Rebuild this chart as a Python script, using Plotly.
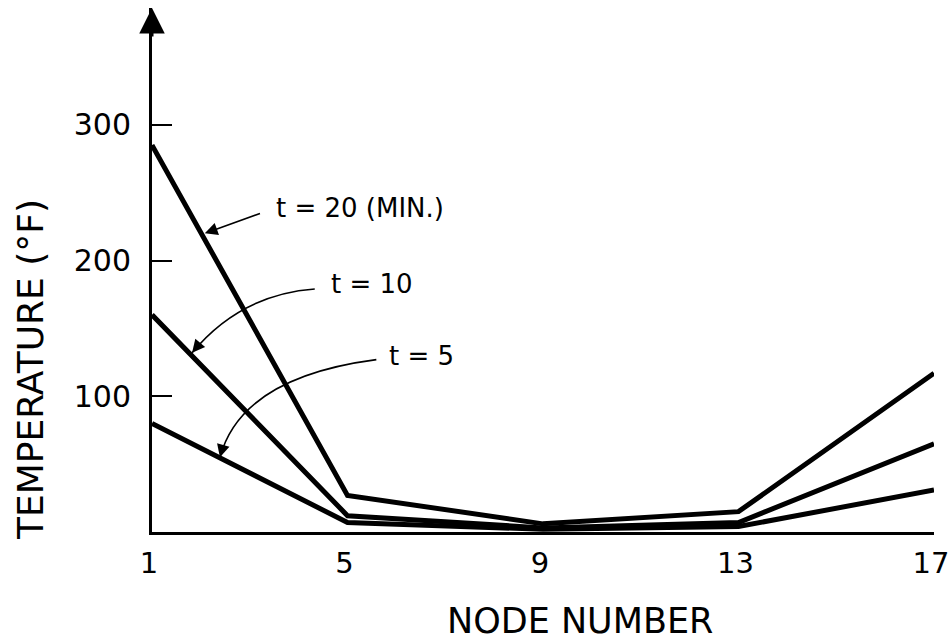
import plotly.graph_objects as go

# ---- data ----
nodes = [1, 5, 9, 13, 17]
t20 = [285, 27, 6, 15, 117]
t10 = [160, 12, 3, 7, 65]
t5 = [80, 7, 2, 4, 31]
x_ticks = [1, 5, 9, 13, 17]
y_ticks = [100, 200, 300]
labels = ["t = 20 (MIN.)", "t = 10", "t = 5"]

FONT = "DejaVu Sans"
W, H = 950, 642
ML, MR, MT, MB = 152, 16, 8, 110
YMAX = 386

fig = go.Figure()
for ys in (t20, t10, t5):
    fig.add_trace(go.Scatter(x=nodes, y=ys, mode="lines",
                             line=dict(color="black", width=5),
                             cliponaxis=False, showlegend=False,
                             hoverinfo="skip"))

ann = []
lab_font = dict(size=26, family=FONT, color="black")
ann.append(dict(x=3.5, y=239, text=labels[0], showarrow=False, xanchor="left",
                font=lab_font))
ann.append(dict(x=4.62, y=183, text=labels[1], showarrow=False, xanchor="left",
                font=lab_font))
ann.append(dict(x=5.8, y=129.5, text=labels[2], showarrow=False, xanchor="left",
                font=lab_font))

# t=20 straight leader
ann.append(dict(x=2.08, y=220, ax=3.24, ay=235, axref="x", ayref="y",
                xref="x", yref="y", text="", showarrow=True, arrowhead=2,
                arrowsize=1.6, arrowwidth=1.6, arrowcolor="black", standoff=0))

shapes = []
curves = [
    ((4.33, 179), (2.81, 175), (1.82, 132)),
    ((5.59, 127), (2.83, 114), (2.39, 55)),
]
for S, C, E in curves:
    shapes.append(dict(type="path", xref="x", yref="y",
                       path=f"M {S[0]} {S[1]} Q {C[0]} {C[1]} {E[0]} {E[1]}",
                       line=dict(color="black", width=1.6)))
    bx = E[0] + 0.15 * (C[0] - E[0])
    by = E[1] + 0.15 * (C[1] - E[1])
    ann.append(dict(x=E[0], y=E[1], ax=bx, ay=by, axref="x", ayref="y",
                    xref="x", yref="y", text="", showarrow=True, arrowhead=2,
                    arrowsize=1.6, arrowwidth=1.6, arrowcolor="black", standoff=0))

# y axis arrowhead
ann.append(dict(x=1, y=YMAX, xref="x", yref="y", ax=0, ay=30, text="",
                showarrow=True, arrowhead=2, arrowsize=1.7, arrowwidth=3,
                arrowcolor="black", standoff=0))

plot_w = W - ML - MR
plot_h = H - MT - MB
base = H - MB
ann.append(dict(xref="paper", yref="paper", x=(580 - ML) / plot_w,
                y=-(621 - base) / plot_h, xanchor="center", yanchor="middle",
                text="NODE NUMBER", showarrow=False,
                font=dict(size=35, family=FONT, color="black")))
ann.append(dict(xref="paper", yref="paper", x=-(ML - 30) / plot_w,
                y=(base - 370) / plot_h, xanchor="center", yanchor="middle",
                text="TEMPERATURE (°F)", showarrow=False,
                textangle=-90, font=dict(size=36, family=FONT, color="black")))

fig.update_layout(
    width=W, height=H,
    margin=dict(l=ML, r=MR, t=MT, b=MB, autoexpand=False),
    paper_bgcolor="white", plot_bgcolor="white",
    annotations=ann, shapes=shapes,
    xaxis=dict(range=[1, 17], tickvals=x_ticks, ticktext=[str(v) for v in x_ticks],
               showgrid=False, zeroline=False, showline=True, linecolor="black",
               linewidth=3, ticks="", tickfont=dict(size=29, family=FONT, color="black"),
               ticklabelstandoff=3, ticklabeloverflow="allow", ticklabelshift=-3,
               automargin=False),
    yaxis=dict(range=[0, YMAX], tickvals=y_ticks, ticktext=[str(v) for v in y_ticks],
               showgrid=False, zeroline=False, showline=True, linecolor="black",
               linewidth=3, ticks="inside", ticklen=20, tickwidth=2, tickcolor="black",
               tickfont=dict(size=30, family=FONT, color="black"),
               ticklabelstandoff=12, automargin=False),
)

fig.write_html("out.html", config={"displayModeBar": False},
               post_script="document.body.style.margin='0';"
                           "document.documentElement.style.overflow='hidden';"
                           "document.body.style.overflow='hidden';")
